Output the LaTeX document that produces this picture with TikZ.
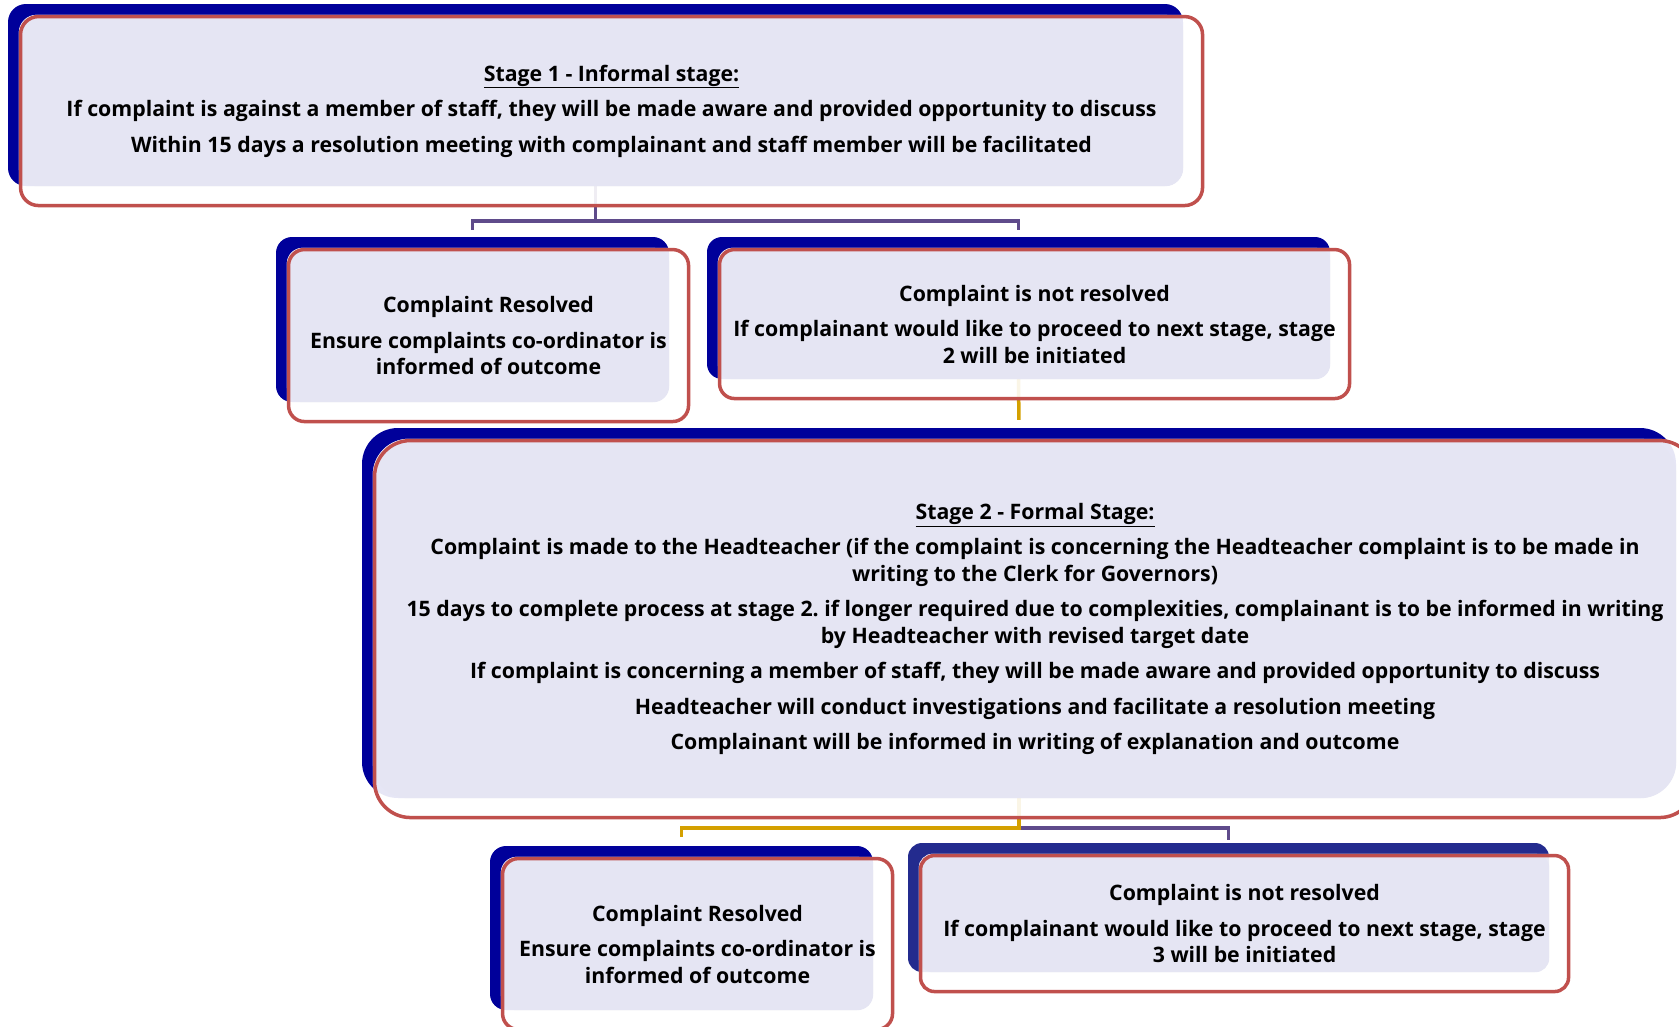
\documentclass[tikz,border=0pt]{standalone}
\usepackage{fontspec}
\setmainfont{Open Sans}
\usepackage{xcolor}
\usetikzlibrary{positioning, calc, backgrounds}
\frenchspacing

\definecolor{navy}{HTML}{00009A}
\definecolor{navylight}{HTML}{232B8E}
\definecolor{lav}{HTML}{E5E5F3}
\definecolor{boxred}{HTML}{C0504D}
\definecolor{violetline}{HTML}{5F4B8B}
\definecolor{goldline}{HTML}{D4A000}

\tikzset{
  backbox/.style={fill=navy, draw=none, inner sep=0pt},
  redbox/.style={draw=boxred, line width=3.5pt, inner sep=0pt, align=center,
    anchor=north west, font=\fontsize{21.3}{26.5}\selectfont\bfseries},
  violetconn/.style={draw=violetline, line width=3.5pt},
  goldconn/.style={draw=goldline, line width=3.5pt},
}

\begin{document}
\begin{tikzpicture}[x=1pt, y=-1pt]
\useasboundingbox (0,0) rectangle (1679,1026);

% dark back boxes
\node[backbox, minimum width=1175, minimum height=182, rounded corners=18] (s1) at (595.5,95) {};
\node[backbox, minimum width=393, minimum height=165, rounded corners=16] (r1) at (472.5,319.5) {};
\node[backbox, minimum width=623, minimum height=142, rounded corners=15] (n1) at (1018.5,308) {};
\node[backbox, minimum width=1314, minimum height=370, rounded corners=36] (s2) at (1019,613) {};
\node[backbox, minimum width=383, minimum height=164, rounded corners=16] (r2) at (681.5,928) {};
\node[backbox, fill=navylight, minimum width=641, minimum height=129, rounded corners=14] (n2) at (1228.5,907.5) {};

% pale faces
\foreach \n/\r in {s1/18, r1/16, n1/15, s2/36, r2/16, n2/14} {
  \fill[white, opacity=.9, rounded corners=\r] ($(\n.north west)+(11,11)$) rectangle ($(\n.south east)+(18,18)$);
  \fill[lav, rounded corners=\r] ($(\n.north west)+(11,11)$) rectangle (\n.south east);
}

% outlined text boxes
\node[redbox, minimum width=1182, minimum height=189, rounded corners=18] (s1t) at ($(s1.north west)+(11,11)$)
  {\underline{Stage 1 - Informal stage:}\\[9pt]
   If complaint is against a member of staff, they will be made aware and provided opportunity to discuss\\[9pt]
   Within 15 days a resolution meeting with complainant and staff member will be facilitated};
\node[redbox, minimum width=400, minimum height=172, rounded corners=16] (r1t) at ($(r1.north west)+(11,11)$)
  {Complaint Resolved\\[9pt]
   Ensure complaints co-ordinator is\\
   informed of outcome};
\node[redbox, minimum width=630, minimum height=149, rounded corners=15] (n1t) at ($(n1.north west)+(11,11)$)
  {Complaint is not resolved\\[9pt]
   If complainant would like to proceed to next stage, stage\\
   2 will be initiated};
\node[redbox, minimum width=1321, minimum height=377, rounded corners=36] (s2t) at ($(s2.north west)+(11,11)$)
  {\underline{Stage 2 - Formal Stage:}\\[9pt]
   Complaint is made to the Headteacher (if the complaint is concerning the Headteacher complaint is to be made in\\
   writing to the Clerk for Governors)\\[9pt]
   15 days to complete process at stage 2. if longer required due to complexities, complainant is to be informed in writing\\
   by Headteacher with revised target date\\[9pt]
   If complaint is concerning a member of staff, they will be made aware and provided opportunity to discuss\\[9pt]
   Headteacher will conduct investigations and facilitate a resolution meeting\\[9pt]
   Complainant will be informed in writing of explanation and outcome};
\node[redbox, minimum width=390, minimum height=171, rounded corners=16] (r2t) at ($(r2.north west)+(11,11)$)
  {Complaint Resolved\\[9pt]
   Ensure complaints co-ordinator is\\
   informed of outcome};
\node[redbox, minimum width=648, minimum height=136, rounded corners=14] (n2t) at ($(n2.north west)+(11,11)$)
  {Complaint is not resolved\\[9pt]
   If complainant would like to proceed to next stage, stage\\
   3 will be initiated};

% connectors
\begin{pgfonlayer}{background}
\draw[violetconn, shorten >=7pt] (s1.south) -- ++(0,35) -| (r1.north);
\draw[violetconn, shorten >=7pt] (s1.south) -- ++(0,35) -| (n1.north);
\draw[goldconn, shorten >=8pt] (n1.south) -- (s2.north);
\draw[violetconn, shorten >=3pt] (s2.south) ++(0,30) -| (n2.north);
\draw[goldconn, shorten >=9pt] (s2.south) -- ++(0,30) -| (r2.north);
\end{pgfonlayer}
\end{tikzpicture}
\end{document}
